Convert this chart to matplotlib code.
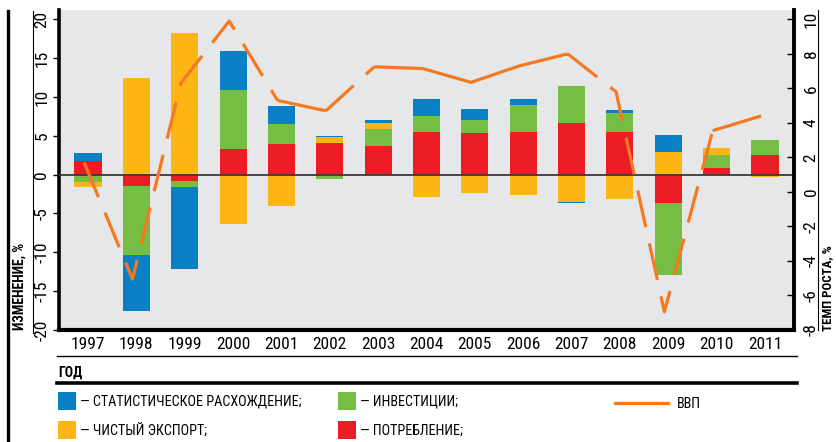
import matplotlib
matplotlib.use("Agg")
import matplotlib.pyplot as plt
from matplotlib import font_manager
from matplotlib.patches import Rectangle
from matplotlib.lines import Line2D
import numpy as np

# ---------------- data ----------------
years = ["1997", "1998", "1999", "2000", "2001", "2002", "2003", "2004",
         "2005", "2006", "2007", "2008", "2009", "2010", "2011"]
consumption = [1.7, -1.4, -0.8, 3.3, 3.95, 4.1, 3.7, 5.5, 5.4, 5.5, 6.65, 5.5, -3.65, 0.85, 2.55]
investment = [-0.9, -8.9, -0.8, 7.6, 2.55, -0.55, 2.2, 2.05, 1.65, 3.45, 4.75, 2.45, -9.25, 1.7, 1.9]
net_exports = [-0.7, 12.45, 18.2, -6.3, -4.0, 0.7, 0.75, -2.85, -2.35, -2.6, -3.5, -3.1, 2.9, 0.9, -0.3]
discrepancy = [1.1, -7.3, -10.5, 5.0, 2.35, 0.2, 0.4, 2.2, 1.4, 0.8, -0.15, 0.35, 2.2, 0.0, 0.0]
gdp = [1.7, -5.05, 6.3, 9.9, 5.3, 4.7, 7.25, 7.15, 6.35, 7.3, 8.0, 5.8, -6.95, 3.55, 4.4]
left_ticks = [-20, -15, -10, -5, 0, 5, 10, 15, 20]
right_ticks = [-8, -6, -4, -2, 0, 2, 4, 6, 8, 10]

# ---------------- style ----------------
C_BLUE = "#0a80c4"
C_GREEN = "#76bd43"
C_RED = "#ec1c24"
C_YELLOW = "#fdb515"
C_ORANGE = "#f47920"
C_BG = "#e6e7e8"

available = {f.name for f in font_manager.fontManager.ttflist}
FAM = "DejaVu Sans"
for cand in ["Liberation Sans Narrow", "Roboto Condensed", "Open Sans Condensed"]:
    if cand in available:
        FAM = cand
        break
plt.rcParams["font.family"] = [FAM, "DejaVu Sans"]
plt.rcParams["lines.scale_dashes"] = False

W, H = 836, 442
fig = plt.figure(figsize=(W / 100, H / 100), dpi=100)

def fx(px):
    return px / W

def fy(py):
    return 1 - py / H

ax = fig.add_axes([fx(59), fy(330), fx(794) - fx(59), fy(10) - fy(330)])
ax.set_facecolor(C_BG)
ax.set_xlim(-0.6, 14.6)
ax.set_ylim(-20, 21.2)

x = np.arange(len(years))
bw = 0.56
series = [(consumption, C_RED), (investment, C_GREEN), (net_exports, C_YELLOW), (discrepancy, C_BLUE)]
pos_base = np.zeros(len(years))
neg_base = np.zeros(len(years))
for vals, col in series:
    v = np.array(vals, dtype=float)
    pos = np.where(v > 0, v, 0)
    neg = np.where(v < 0, v, 0)
    ax.bar(x, pos, bw, bottom=pos_base, color=col, linewidth=0, zorder=2)
    ax.bar(x, neg, bw, bottom=neg_base, color=col, linewidth=0, zorder=2)
    pos_base += pos
    neg_base += neg

ax.axhline(0, color="#3a3a3a", linewidth=1.3, zorder=3)

ax.set_xticks(x)
ax.set_xticklabels(years)
ax.tick_params(axis="x", length=0, pad=5, labelsize=12.5)
ax.set_yticks(left_ticks)
ax.set_yticklabels([str(t) for t in left_ticks], rotation=90, va="center")
ax.tick_params(axis="y", direction="out", length=4, width=1, labelsize=12.5, pad=3)

ax.spines["top"].set_visible(False)
ax.spines["left"].set_linewidth(2.6)
ax.spines["bottom"].set_linewidth(3)
ax.spines["right"].set_linewidth(2.6)

ax2 = ax.twinx()
ax2.set_ylim(-8, 10.54)
ax2.set_yticks(right_ticks)
ax2.set_yticklabels([str(t) for t in right_ticks], rotation=90, va="center")
ax2.tick_params(axis="y", direction="in", length=5, width=1, labelsize=12.5, pad=7)
ax2.spines["top"].set_visible(False)
ax2.spines["right"].set_linewidth(2.6)
ax2.spines["left"].set_visible(False)
ax2.spines["bottom"].set_visible(False)

gx = x - 0.08
g = np.array(gdp)
segments = [(0, 4, True), (4, 5, False), (5, 6, True), (6, 10, False), (10, 13, True), (13, 14, False)]
for a, b, dashed in segments:
    ln, = ax2.plot(gx[a:b + 1], g[a:b + 1], color=C_ORANGE, linewidth=2.3,
                   solid_capstyle="butt", zorder=4)
    if dashed:
        ln.set_dashes((27, 12))

# axis labels
fig.text(fx(20), fy(330), "ИЗМЕНЕНИЕ, %", rotation=90, ha="center", va="bottom",
         fontsize=10, fontweight="bold")
fig.text(fx(828), fy(331), "ТЕМП РОСТА, %", rotation=90, ha="center", va="bottom",
         fontsize=9.3, fontweight="bold")

# decorative frame lines
fig.add_artist(Line2D([fx(8), fx(8)], [fy(11), fy(442)], color="black", linewidth=2.4))
fig.add_artist(Line2D([fx(33), fx(33)], [fy(11), fy(333)], color="black", linewidth=0.8))
fig.add_artist(Line2D([fx(818), fx(818)], [fy(10), fy(330)], color="black", linewidth=0.8))
fig.add_artist(Line2D([fx(57), fx(797)], [fy(356), fy(356)], color="black", linewidth=1.0))
fig.add_artist(Line2D([fx(57), fx(797)], [fy(383), fy(383)], color="black", linewidth=2.6))
fig.text(fx(58), fy(373), "ГОД", ha="left", va="center", fontsize=10, fontweight="bold")

# legend
leg_items = [
    (58, 401, C_BLUE, "— СТАТИСТИЧЕСКОЕ РАСХОЖДЕНИЕ;"),
    (58, 430, C_YELLOW, "— ЧИСТЫЙ ЭКСПОРТ;"),
    (338, 401, C_GREEN, "— ИНВЕСТИЦИИ;"),
    (338, 430, C_RED, "— ПОТРЕБЛЕНИЕ;"),
]
for px, py, col, lab in leg_items:
    fig.add_artist(Rectangle((fx(px), fy(py + 9)), fx(18), 18 / H, color=col, linewidth=0))
    fig.text(fx(px + 22), fy(py + 1), lab, ha="left", va="center", fontsize=10.2)
fig.add_artist(Line2D([fx(615), fx(668)], [fy(403), fy(403)], color=C_ORANGE, linewidth=2.3))
fig.text(fx(677), fy(404), "ВВП", ha="left", va="center", fontsize=10.2)

fig.savefig("out.png", dpi=100)
